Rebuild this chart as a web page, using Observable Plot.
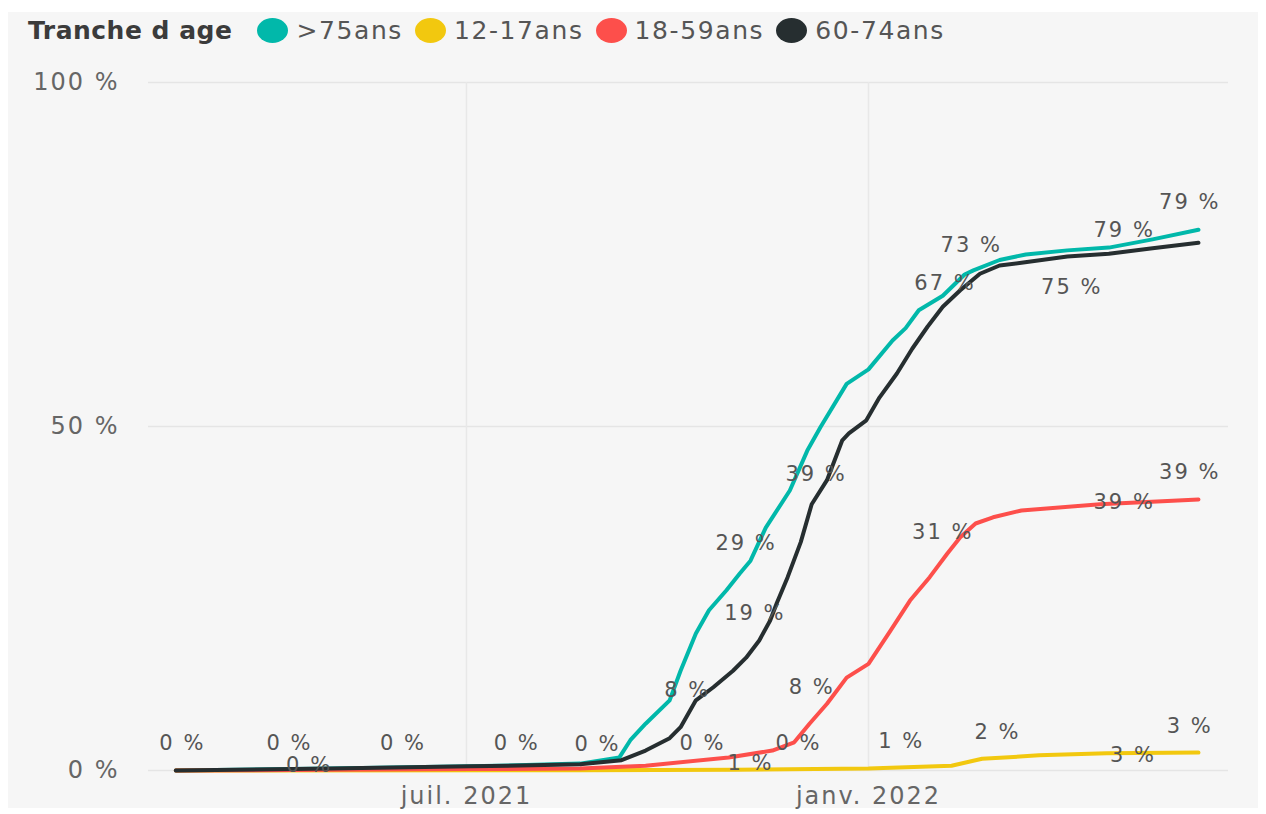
<!DOCTYPE html>
<html><head><meta charset="utf-8">
<script src="https://cdn.jsdelivr.net/npm/d3@7"></script>
<script src="https://cdn.jsdelivr.net/npm/@observablehq/plot@0.6"></script>
<style>
html,body{margin:0;padding:0;background:#fff;width:1266px;height:814px;overflow:hidden;font-family:"DejaVu Sans",sans-serif;}
#panel{position:absolute;left:8px;top:12px;width:1250px;height:796px;background:#f6f6f6;}
#legend{position:absolute;left:28px;top:14px;height:32px;display:flex;align-items:center;font-size:25px;color:#555;letter-spacing:1.6px;white-space:nowrap;}
#legend .title{font-weight:bold;color:#3b3b3b;margin-right:25px;letter-spacing:0.5px;}
#legend .sw{width:31px;height:25px;border-radius:50%;margin-right:8px;}
#legend .item{display:flex;align-items:center;margin-right:12px;}
#chart{position:absolute;left:0;top:50px;}
</style></head>
<body>
<div id="panel"></div>
<div id="legend"></div>
<div id="chart"></div>
<script>
const legendTitle = "Tranche d age";
const seriesNames = [">75ans", "12-17ans", "18-59ans", "60-74ans"];
const seriesColors = ["#01B8AA", "#F2C80F", "#FD4F4B", "#262E30"];

const datesOver75 = ["2021-02-18","2021-04-30","2021-07-03","2021-08-22","2021-09-09","2021-09-14","2021-09-21","2021-10-02","2021-10-07","2021-10-14","2021-10-20","2021-10-28","2021-11-03","2021-11-08","2021-11-15","2021-11-26","2021-12-04","2021-12-10","2021-12-22","2022-01-01","2022-01-12","2022-01-18","2022-01-24","2022-02-04","2022-02-14","2022-02-18","2022-03-02","2022-03-14","2022-04-02","2022-04-21","2022-05-11","2022-06-01"];
const valuesOver75 = [0,0.3,0.6,1.0,1.9,4.4,6.8,10.2,14.5,19.9,23.3,26.2,28.6,30.5,35.3,40.7,46.5,49.9,56.2,58.3,62.5,64.3,66.9,69.0,72.1,72.7,74.2,75.0,75.6,76.0,77.2,78.6];

const dates12to17 = ["2021-02-18","2021-08-22","2021-11-01","2022-01-01","2022-02-08","2022-02-22","2022-03-20","2022-04-20","2022-06-01"];
const values12to17 = [0,0.05,0.1,0.3,0.7,1.7,2.2,2.5,2.6];

const dates18to59 = ["2021-02-18","2021-04-30","2021-07-03","2021-08-22","2021-09-21","2021-10-29","2021-11-18","2021-11-28","2021-12-05","2021-12-13","2021-12-22","2022-01-01","2022-01-11","2022-01-20","2022-01-29","2022-02-06","2022-02-12","2022-02-19","2022-02-27","2022-03-12","2022-04-17","2022-06-01"];
const values18to59 = [0,0.1,0.2,0.3,0.7,1.9,2.9,4.1,6.8,9.7,13.5,15.5,20.3,24.7,28.1,31.5,33.9,35.9,36.8,37.8,38.7,39.4];

const dates60to74 = ["2021-02-18","2021-04-30","2021-07-03","2021-08-22","2021-09-10","2021-09-21","2021-10-02","2021-10-07","2021-10-14","2021-10-22","2021-10-31","2021-11-06","2021-11-12","2021-11-17","2021-11-20","2021-11-25","2021-12-01","2021-12-06","2021-12-13","2021-12-20","2021-12-23","2021-12-31","2022-01-06","2022-01-14","2022-01-21","2022-01-28","2022-02-04","2022-02-12","2022-02-21","2022-03-02","2022-03-12","2022-04-02","2022-04-21","2022-05-11","2022-06-01"];
const values60to74 = [0,0.3,0.6,0.9,1.5,2.9,4.7,6.3,10.2,12.1,14.5,16.4,18.9,21.8,24.3,28.1,33.2,38.7,42.2,48.0,49.0,50.9,54.2,57.7,61.3,64.5,67.4,69.8,72.2,73.4,73.8,74.7,75.1,75.9,76.7];

const labelDates = ["2021-02-21","2021-04-11","2021-04-20","2021-06-02","2021-07-24","2021-08-30","2021-10-10","2021-10-17","2021-11-08","2021-11-30","2021-12-06","2021-11-10","2021-11-06","2021-12-08","2022-02-04","2022-01-16","2022-03-01","2022-05-02","2022-05-28","2022-04-28","2022-05-28","2022-02-05","2022-02-17","2022-04-04","2022-04-28","2022-05-28"];
const labelValues = [3.9,3.9,0.8,3.9,3.9,3.8,11.6,3.9,1.0,3.9,12.1,22.8,33.1,43.0,34.6,4.2,5.5,2.2,6.4,39.0,43.3,70.8,76.3,70.2,78.5,82.6];
const labelTexts = ["0 %","0 %","0 %","0 %","0 %","0 %","8 %","0 %","1 %","0 %","8 %","19 %","29 %","39 %","31 %","1 %","2 %","3 %","3 %","39 %","39 %","67 %","73 %","75 %","79 %","79 %"];

const xTickDates = ["2021-07-01","2022-01-01"];
const xTickLabels = ["juil. 2021","janv. 2022"];
const yTicks = [0, 50, 100];
const xDomain = ["2021-02-05T12:00Z","2022-06-14T18:00Z"];

const parse = s => new Date(s.length === 10 ? s + "T00:00Z" : s);

const rows = [];
[[datesOver75, valuesOver75], [dates12to17, values12to17], [dates18to59, values18to59], [dates60to74, values60to74]]
  .forEach(([ds, vs], k) => ds.forEach((d, i) => rows.push({series: seriesNames[k], date: parse(d), value: vs[i]})));
const labels = labelDates.map((d, i) => ({date: parse(d), value: labelValues[i], text: labelTexts[i]}));
const xTicks = xTickDates.map(parse);

// legend
const legend = document.getElementById("legend");
const t = document.createElement("span"); t.className = "title"; t.textContent = legendTitle; legend.appendChild(t);
seriesNames.forEach((n, i) => {
  const it = document.createElement("span"); it.className = "item";
  const sw = document.createElement("span"); sw.className = "sw"; sw.style.background = seriesColors[i];
  const lb = document.createElement("span"); lb.textContent = n;
  it.appendChild(sw); it.appendChild(lb); legend.appendChild(it);
});

const svg = Plot.plot({
  width: 1266, height: 764,
  marginLeft: 148, marginRight: 38, marginTop: 32, marginBottom: 44,
  style: {fontFamily: "DejaVu Sans", background: "transparent", overflow: "visible"},
  x: {type: "utc", domain: xDomain.map(parse)},
  y: {domain: [0, 100]},
  color: {domain: seriesNames, range: seriesColors},
  marks: [
    Plot.gridY(yTicks, {stroke: "#e5e5e5", strokeOpacity: 1, strokeWidth: 1.5}),
    Plot.gridX(xTicks, {stroke: "#e8e8e8", strokeOpacity: 1, strokeWidth: 1.5}),
    Plot.axisY(yTicks, {tickSize: 0, tickPadding: 29, fontSize: 24, fill: "#666", tickFormat: d => d + " %", label: null}),
    Plot.axisX(xTicks, {tickSize: 0, tickPadding: 16, fontSize: 24, fill: "#666", tickFormat: d => xTickLabels[xTicks.findIndex(v => +v === +d)], label: null}),
    Plot.line(rows, {x: "date", y: "value", z: "series", stroke: "series", strokeWidth: 4, strokeLinejoin: "round", strokeLinecap: "round"}),
    Plot.text(labels, {x: "date", y: "value", text: "text", fontSize: 21, fill: "#555"})
  ]
});
svg.querySelectorAll('g[aria-label="text"] text').forEach(e => e.style.letterSpacing = "2px");
svg.querySelectorAll('g[aria-label$="tick label"] text').forEach(e => e.style.letterSpacing = "2px");
document.getElementById("chart").appendChild(svg);
</script>
</body></html>
